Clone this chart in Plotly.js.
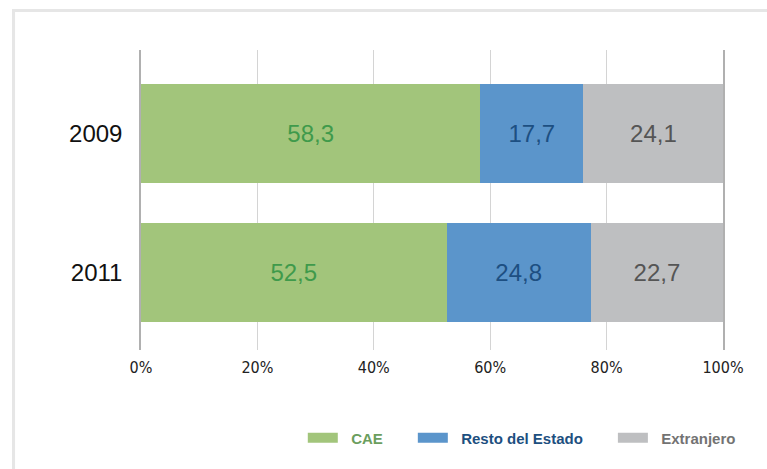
<!DOCTYPE html>
<html>
<head>
<meta charset="utf-8">
<script src="https://cdn.plot.ly/plotly-3.0.1.min.js"></script>
<style>
  html, body { margin: 0; padding: 0; background: #fff; }
  #grafico { width: 767px; height: 469px; }
</style>
</head>
<body>
<div id="grafico"></div>
<script>
// datos (%)
var anios = ['2009', '2011'];
var cae = [58.3, 52.5];
var restoEstado = [17.7, 24.8];
var extranjero = [24.1, 22.7];

var series = ['CAE', 'Resto del Estado', 'Extranjero'];
var colores = ['#a2c57b', '#5b95cb', '#bebfc1'];
var coloresTexto = ['#3f9a4b', '#1d4f82', '#555555'];
var coloresLeyenda = ['#6b9e5e', '#1d4f80', '#737373'];

var fmt = function (v) { return v.toFixed(1).replace('.', ','); };

var valores = [cae, restoEstado, extranjero];
var data = [];

valores.forEach(function (vals, i) {
  data.push({
    type: 'bar',
    orientation: 'h',
    y: anios,
    x: vals,
    name: series[i],
    showlegend: false,
    width: 0.712,
    marker: {color: colores[i]},
    text: vals.map(fmt),
    textposition: 'inside',
    insidetextanchor: 'middle',
    textfont: {family: 'Liberation Sans, Arial, sans-serif', size: 24, color: coloresTexto[i]},
    hoverinfo: 'name+x'
  });
});

// entradas de leyenda (rectangulos anchos)
var sp = '&nbsp;';
series.forEach(function (s, i) {
  var cola = i < series.length - 1 ? sp.repeat(6) : '';
  data.push({
    type: 'scatter',
    mode: 'lines',
    x: [null],
    y: [null],
    name: sp + sp + '<b><span style="color:' + coloresLeyenda[i] + '">' + s + '</span></b>' + cola,
    line: {color: colores[i], width: 16},
    hoverinfo: 'skip'
  });
});

var layout = {
  width: 767,
  height: 469,
  margin: {l: 141, r: 44, t: 50, b: 119, autoexpand: false},
  paper_bgcolor: '#ffffff',
  plot_bgcolor: '#ffffff',
  barmode: 'stack',
  separators: ',.',
  xaxis: {
    range: [0, 100],
    tickvals: [0, 20, 40, 60, 80, 100],
    ticktext: ['0%', '20%', '40%', '60%', '80%', '100%'],
    showgrid: true,
    gridcolor: '#d4d4d4',
    gridwidth: 1,
    zeroline: false,
    showline: false,
    ticks: 'outside',
    ticklen: 3,
    tickcolor: 'rgba(0,0,0,0)',
    tickfont: {family: 'DejaVu Sans Condensed, Liberation Sans, sans-serif', size: 16, color: '#222'},
    fixedrange: true
  },
  yaxis: {
    type: 'category',
    range: [1.558, -0.601],
    showgrid: false,
    zeroline: false,
    showline: true,
    mirror: true,
    linecolor: '#b0b0b0',
    linewidth: 1.5,
    ticks: 'outside',
    ticklen: 12,
    tickcolor: 'rgba(0,0,0,0)',
    tickfont: {family: 'Liberation Sans, Arial, sans-serif', size: 24, color: '#111'},
    fixedrange: true
  },
  legend: {
    orientation: 'h',
    traceorder: 'normal',
    x: 0.278,
    xanchor: 'left',
    y: -0.293,
    yanchor: 'middle',
    font: {family: 'Liberation Sans, Arial, sans-serif', size: 15},
    itemwidth: 30,
    bgcolor: 'rgba(0,0,0,0)'
  },
  shapes: [{
    type: 'path',
    xref: 'paper',
    yref: 'paper',
    path: 'M -0.219,-0.5 L -0.219,1.132 L 1.2,1.132',
    line: {color: '#e6e6e6', width: 3},
    layer: 'below'
  }],
  showlegend: true
};

Plotly.newPlot('grafico', data, layout, {displayModeBar: false, responsive: false});
</script>
</body>
</html>
